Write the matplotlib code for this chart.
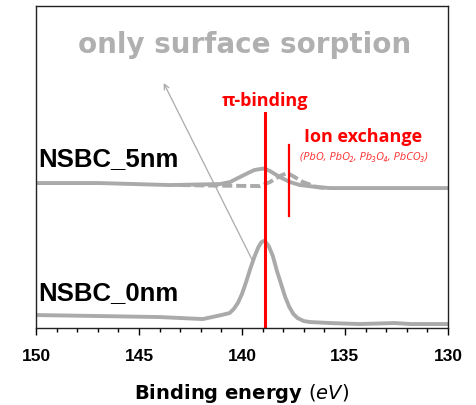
import matplotlib
matplotlib.use('Agg')
import matplotlib.pyplot as plt
from matplotlib.ticker import MultipleLocator

plt.rcParams['font.family'] = ['Liberation Sans', 'DejaVu Sans']
plt.rcParams['mathtext.fontset'] = 'custom'
plt.rcParams['mathtext.rm'] = 'DejaVu Sans'
plt.rcParams['mathtext.it'] = 'DejaVu Sans:italic'

# Pb 4f region, binding energy (eV) vs. offset intensity (a.u.)
energy_0nm = [150.0, 146.9, 144.0, 141.9, 141.0, 140.6, 140.4, 140.2, 140.0,
              139.8, 139.6, 139.4, 139.2, 139.05, 138.95, 138.85, 138.7,
              138.5, 138.3, 138.1, 137.9, 137.7, 137.5, 137.3, 137.0, 136.7,
              135.7, 134.3, 132.6, 131.8, 130.0]
intens_0nm = [13, 12, 11, 9, 13, 15, 19, 25, 34, 46, 59, 71, 81, 86, 87, 86,
              82, 72, 57, 44, 31, 21, 14, 10, 7, 6, 5, 4, 5, 4, 4]

energy_5nm = [150.0, 146.9, 143.5, 141.07, 140.58, 140.1, 139.61, 139.4,
              139.13, 138.9, 138.64, 138.4, 138.16, 137.67, 137.18, 136.36,
              135.73, 130.0]
intens_5nm = [145, 145, 143, 144, 146, 151, 156, 158, 159, 159.5, 157, 154,
              151, 146, 143, 141, 140, 140]

# fitted component of the 5 nm sample
energy_5nm_fit = [143.0, 141.55, 139.13, 138.64, 138.16, 137.82, 137.52,
                  137.04, 136.36, 135.97]
intens_5nm_fit = [143, 142.5, 142, 146, 152, 155, 152, 146, 141, 140]

pi_binding_e = 138.9
ion_exchange_e = 137.7

grey = '#aaaaaa'
red = '#ff0000'

fig = plt.figure(figsize=(4.77, 4.05), dpi=100)
ax = fig.add_axes([0.0755, 0.190, 0.8635, 0.795])

ax.plot(energy_0nm, intens_0nm, color=grey, lw=2.8, solid_joinstyle='round')
ax.plot(energy_5nm, intens_5nm, color=grey, lw=2.8, solid_joinstyle='round')
ax.plot(energy_5nm_fit, intens_5nm_fit, color=grey, lw=2.8,
        dashes=(2.6, 1.0))

ax.plot([pi_binding_e, pi_binding_e], [0, 215], color=red, lw=2.2)
ax.plot([ion_exchange_e, ion_exchange_e], [112, 183], color=red, lw=1.6)

ax.annotate('', xy=(143.8, 245), xytext=(139.5, 68),
            arrowprops=dict(arrowstyle='->', color=grey, lw=0.9,
                            mutation_scale=9, shrinkA=0, shrinkB=0))

ax.text(139.85, 275, 'only surface sorption', ha='center', va='baseline',
        fontsize=20, fontweight='bold', color='#b0b0b0',
        family='DejaVu Sans')
ax.text(pi_binding_e, 222, 'π-binding', ha='center', va='baseline',
        fontsize=13, fontweight='bold', color=red,
        family=['Open Sans', 'DejaVu Sans'])
ax.text(134.1, 186, 'Ion exchange', ha='center', va='baseline',
        fontsize=13, fontweight='bold', color=red,
        family=['Open Sans', 'DejaVu Sans'])
ax.text(134.1, 168, '(PbO, PbO₂, Pb₃O₄, PbCO₃)', ha='center', va='baseline',
        fontsize=8, style='italic', color='#ff3030',
        family=['Open Sans', 'DejaVu Sans'])
ax.text(149.9, 162, 'NSBC_5nm', ha='left', va='baseline',
        fontsize=18.5, fontweight='bold', color='black')
ax.text(149.9, 28, 'NSBC_0nm', ha='left', va='baseline',
        fontsize=18.5, fontweight='bold', color='black')

ax.set_xlim(150, 130)
ax.set_ylim(0, 322)
ax.xaxis.set_major_locator(MultipleLocator(5))
ax.xaxis.set_minor_locator(MultipleLocator(1))
ax.tick_params(axis='x', which='major', direction='out', length=5,
               width=1, labelsize=12.5, pad=10)
ax.tick_params(axis='x', which='minor', direction='out', length=3, width=1)
ax.set_yticks([])
for lbl in ax.get_xticklabels():
    lbl.set_fontweight('bold')
for sp in ax.spines.values():
    sp.set_linewidth(1.0)
    sp.set_color('#222222')

ax.set_xlabel(r'Binding energy $\mathit{(eV)}$', fontsize=14,
              fontweight='bold', family='DejaVu Sans', labelpad=13)

fig.savefig('out.png', dpi=100)
